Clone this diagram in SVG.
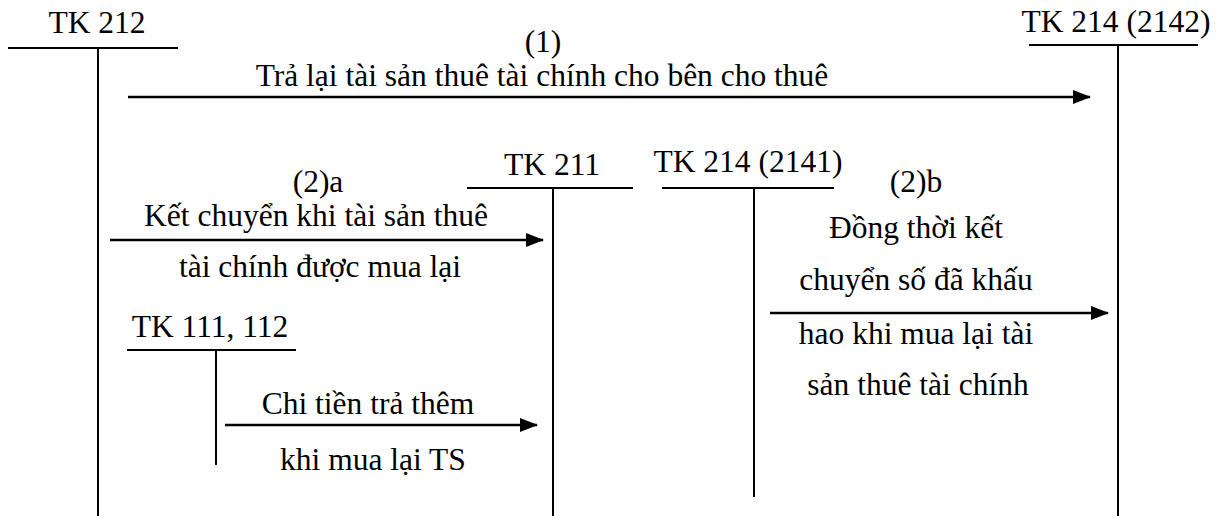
<svg xmlns="http://www.w3.org/2000/svg" width="1222" height="516" viewBox="0 0 1222 516">
<style>
text{font-family:"Liberation Serif","Times New Roman",serif;font-size:31.5px;fill:#000;text-anchor:middle}
.ln{stroke:#000;stroke-width:2;fill:none}
.ar{stroke:#000;stroke-width:2.5;fill:none;marker-end:url(#ah)}
</style>
<defs>
<marker id="ah" markerUnits="userSpaceOnUse" markerWidth="18" markerHeight="14" refX="17" refY="7" orient="auto">
<path d="M0,0 L18,7 L0,14 Z" fill="#000"/>
</marker>
</defs>
<rect width="1222" height="516" fill="#fff"/>
<g id="tk212">
<text x="97" y="33">TK 212</text>
<line class="ln" x1="8" y1="48" x2="178" y2="48"/>
<line class="ln" x1="98" y1="48" x2="98" y2="516"/>
</g>
<g id="tk2142">
<text x="1116" y="32">TK 214 (2142)</text>
<line class="ln" x1="1029" y1="45" x2="1198" y2="45"/>
<line class="ln" x1="1118" y1="45" x2="1118" y2="516"/>
</g>
<g id="tk211">
<text x="552" y="175">TK 211</text>
<line class="ln" x1="467" y1="188" x2="633" y2="188"/>
<line class="ln" x1="553" y1="188" x2="553" y2="516"/>
</g>
<g id="tk2141">
<text x="748" y="172">TK 214 (2141)</text>
<line class="ln" x1="662" y1="188" x2="834" y2="188"/>
<line class="ln" x1="754" y1="188" x2="754" y2="497"/>
</g>
<g id="tk111">
<text x="210" y="337">TK 111, 112</text>
<line class="ln" x1="127" y1="350" x2="296" y2="350"/>
<line class="ln" x1="216" y1="350" x2="216" y2="465"/>
</g>
<g id="connectors">
<line class="ar" x1="128" y1="97" x2="1090" y2="97"/>
<line class="ar" x1="110" y1="240" x2="543" y2="240"/>
<line class="ar" x1="770" y1="313" x2="1108" y2="313"/>
<line class="ar" x1="225" y1="425" x2="537" y2="425"/>
</g>
<g id="labels">
<text x="543" y="52">(1)</text>
<text x="542" y="86">Trả lại tài sản thuê tài chính cho bên cho thuê</text>
<text x="318" y="192">(2)a</text>
<text x="316" y="226">Kết chuyển khi tài sản thuê</text>
<text x="320" y="277">tài chính được mua lại</text>
<text x="916" y="192">(2)b</text>
<text x="916" y="238">Đồng thời kết</text>
<text x="916" y="290">chuyển số đã khấu</text>
<text x="916" y="344">hao khi mua lại tài</text>
<text x="918" y="395">sản thuê tài chính</text>
<text x="368" y="414">Chi tiền trả thêm</text>
<text x="373" y="470">khi mua lại TS</text>
</g>
</svg>
